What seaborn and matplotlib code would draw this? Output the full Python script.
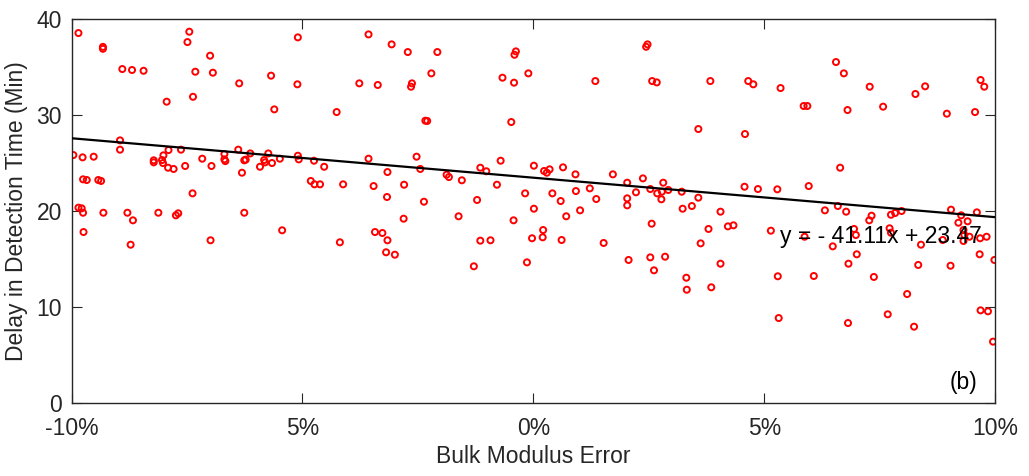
import numpy as np
import pandas as pd
import matplotlib
matplotlib.use("Agg")
import matplotlib.pyplot as plt
import seaborn as sns

# ---------------- data ----------------
error_pct = [
    -9.85, -7.45, -7.49, -9.32, -9.32, -5.10, -7.00, -8.90, -8.69, -8.44,
    -7.32, -6.94, -5.68, -6.37, -5.11, -7.37, -7.94, -5.61, -8.95, -8.95,
    -9.96, -9.76, -9.52, -8.22, -8.22, -8.01, -8.04, -8.02, -7.90, -7.63,
    -7.91, -7.79, -7.54, -7.17, -6.97, -6.69, -6.69, -6.67, -6.39, -6.26,
    -6.23, -6.13, -6.31, -5.74, -5.83, -5.81, -5.66, -5.92, -5.49, -5.10,
    -5.08, -9.75, -9.67, -9.42, -9.36, -7.38, -9.85, -9.78, -9.75, -9.31,
    -8.79, -8.67, -8.12, -7.74, -7.69, -6.26, -9.74, -8.72, -6.99, -5.44,
    -3.57, -3.07, -2.72, -2.08, -0.38, -0.41, -0.11, -3.77, -3.37, -2.63,
    -2.65, -2.21, -0.67, -0.42, -4.26, -2.34, -2.30, -0.48, -4.75, -4.53,
    -3.57, -2.53, -2.45, -3.16, -1.88, -1.83, -1.55, -1.15, -1.02, -0.71,
    -4.82, -4.74, -4.62, -4.12, -3.46, -2.80, -0.79, -0.18, -3.17, -2.37,
    -1.22, -2.81, -1.62, -0.43, -3.43, -3.27, -3.16, -4.19, -3.19, -3.00,
    -1.15, -0.93, -0.14, -1.29, 2.44, 2.47, 1.34, 2.57, 2.67, 3.83,
    4.65, 4.76, 3.57, 4.58, 0.01, 0.23, 0.29, 0.35, 0.64, 0.91,
    1.72, 2.03, 2.37, 2.81, 2.53, 2.68, 2.78, 2.92, 3.21, 2.77,
    3.57, 2.03, 1.36, 0.92, 0.41, 0.59, 1.22, 4.57, 4.86, 2.22,
    0.01, 0.71, 1.01, 3.23, 3.43, 4.05, 0.21, -0.03, 0.20, 0.61,
    1.52, 2.56, 3.79, 3.62, 4.21, 4.33, 2.06, 2.53, 2.85, 2.61,
    4.05, 3.31, 3.32, 3.85, 6.55, 6.72, 5.35, 7.28, 8.27, 8.48,
    9.68, 9.76, 5.85, 5.93, 6.80, 7.57, 8.95, 9.56, 6.64, 5.28,
    5.96, 6.31, 6.59, 6.77, 7.32, 7.27, 7.74, 7.83, 7.97, 9.04,
    9.26, 9.20, 9.40, 9.60, 5.14, 5.87, 6.94, 6.98, 6.48, 7.00,
    7.71, 7.74, 8.39, 8.86, 9.31, 9.33, 9.44, 9.31, 9.67, 9.81,
    9.66, 9.98, 6.82, 8.33, 9.03, 5.29, 6.07, 7.37, 8.09, 5.31,
    6.81, 7.67, 8.24, 9.68, 9.84, 9.95, 2.03,
]
delay_min = [
    38.54, 38.68, 37.60, 37.10, 36.90, 38.09, 36.18, 34.79, 34.69, 34.61,
    34.51, 34.41, 34.10, 33.30, 33.20, 31.90, 31.39, 30.59, 27.36, 26.39,
    25.83, 25.59, 25.66, 25.28, 25.07, 25.80, 25.31, 25.00, 26.35, 26.39,
    24.51, 24.38, 24.69, 25.45, 24.69, 25.94, 25.38, 25.20, 26.39, 25.28,
    25.35, 26.00, 23.99, 26.00, 25.31, 25.07, 25.00, 24.61, 25.45, 25.76,
    25.38, 23.30, 23.23, 23.23, 23.13, 21.84, 20.35, 20.28, 19.82, 19.82,
    19.82, 19.03, 19.82, 19.55, 19.76, 19.82, 17.81, 16.49, 16.95, 17.99,
    38.40, 37.36, 36.56, 36.56, 36.63, 36.28, 34.34, 33.30, 33.13, 33.30,
    32.95, 34.34, 33.89, 33.37, 30.31, 29.41, 29.38, 29.27, 25.24, 24.61,
    25.45, 25.66, 24.38, 24.06, 23.78, 23.54, 23.20, 24.51, 24.14, 25.24,
    23.13, 22.78, 22.78, 22.78, 22.60, 22.74, 22.74, 21.84, 21.46, 20.97,
    21.15, 19.20, 19.45, 19.03, 17.81, 17.71, 16.95, 16.74, 15.70, 15.45,
    16.91, 16.95, 14.65, 14.24, 37.11, 37.36, 33.54, 33.54, 33.40, 33.54,
    33.54, 33.20, 28.54, 28.02, 24.72, 24.17, 23.99, 24.34, 24.55, 23.82,
    23.82, 22.95, 23.40, 22.95, 22.29, 21.84, 22.01, 22.19, 22.01, 21.22,
    21.39, 21.32, 21.25, 22.08, 21.84, 21.04, 22.36, 22.53, 22.29, 21.95,
    20.24, 19.45, 20.07, 20.24, 20.52, 19.93, 18.02, 17.16, 17.26, 16.98,
    16.67, 18.68, 18.13, 16.63, 18.40, 18.51, 14.90, 15.17, 15.24, 13.82,
    14.51, 13.05, 11.80, 12.05, 35.52, 34.34, 32.81, 32.95, 32.19, 32.99,
    33.65, 32.95, 30.94, 30.94, 30.52, 30.87, 30.14, 30.31, 24.51, 22.26,
    22.60, 20.07, 20.52, 19.93, 19.51, 19.03, 19.61, 19.79, 20.00, 20.14,
    19.55, 18.78, 18.93, 19.86, 17.95, 17.32, 18.13, 17.50, 16.32, 15.49,
    18.20, 17.74, 16.49, 16.98, 18.02, 17.50, 17.32, 16.88, 17.16, 17.32,
    15.49, 14.90, 14.51, 14.38, 14.30, 13.20, 13.23, 13.13, 11.35, 8.85,
    8.33, 9.24, 7.95, 9.65, 9.55, 6.39, 20.59,
]
fit_slope = -41.11
fit_intercept = 23.47
equation_text = "y = - 41.11x + 23.47"
panel_label = "(b)"
x_ticks = [-0.10, -0.05, 0.0, 0.05, 0.10]
x_tick_labels = ["-10%", "5%", "0%", "5%", "10%"]
y_ticks = [0, 10, 20, 30, 40]
x_label = "Bulk Modulus Error"
y_label = "Delay in Detection Time (Min)"

# ---------------- styling ----------------
sns.set_theme(style="white")
plt.rcParams["font.family"] = ["Liberation Sans", "DejaVu Sans"]
text_color = "#262626"

df = pd.DataFrame({"error": np.array(error_pct) / 100.0, "delay": delay_min})

fig, ax = plt.subplots(figsize=(10.29, 4.76), dpi=100)
fig.subplots_adjust(left=0.0695, right=0.9673, bottom=0.1534, top=0.960)

sns.scatterplot(data=df, x="error", y="delay", ax=ax, marker="o", s=19,
                color="red", linewidth=1.4, legend=False, zorder=2)
pts = ax.collections[0]
pts.set_facecolor("none")
pts.set_edgecolor("#ff0000")

line_x = np.array([x_ticks[0], x_ticks[-1]])
sns.lineplot(x=line_x, y=fit_slope * line_x + fit_intercept, ax=ax,
             color="black", linewidth=1.6, zorder=3)

ax.set_xlim(x_ticks[0], x_ticks[-1])
ax.set_ylim(y_ticks[0], y_ticks[-1])
ax.set_xticks(x_ticks)
ax.set_xticklabels(x_tick_labels)
ax.set_yticks(y_ticks)

for sp in ax.spines.values():
    sp.set_visible(True)
    sp.set_color(text_color)
    sp.set_linewidth(1.0)

ax.tick_params(axis="both", which="both", direction="in", length=7, width=0.8,
               top=True, right=True, bottom=True, left=True,
               labelsize=16.5, labelcolor=text_color, color=text_color)
ax.tick_params(axis="x", pad=10)
ax.tick_params(axis="y", pad=7)

ax.set_xlabel(x_label, fontsize=16.5, color=text_color, labelpad=4)
ax.set_ylabel(y_label, fontsize=16.5, color=text_color, labelpad=6)

ax.text(0.0534, 16.7, equation_text, fontsize=16.5, color="black",
        ha="left", va="baseline", zorder=4)
ax.text(0.0961, 1.5, panel_label, fontsize=16.5, color="black",
        ha="right", va="baseline", zorder=4)

fig.savefig("out.png", dpi=100)
